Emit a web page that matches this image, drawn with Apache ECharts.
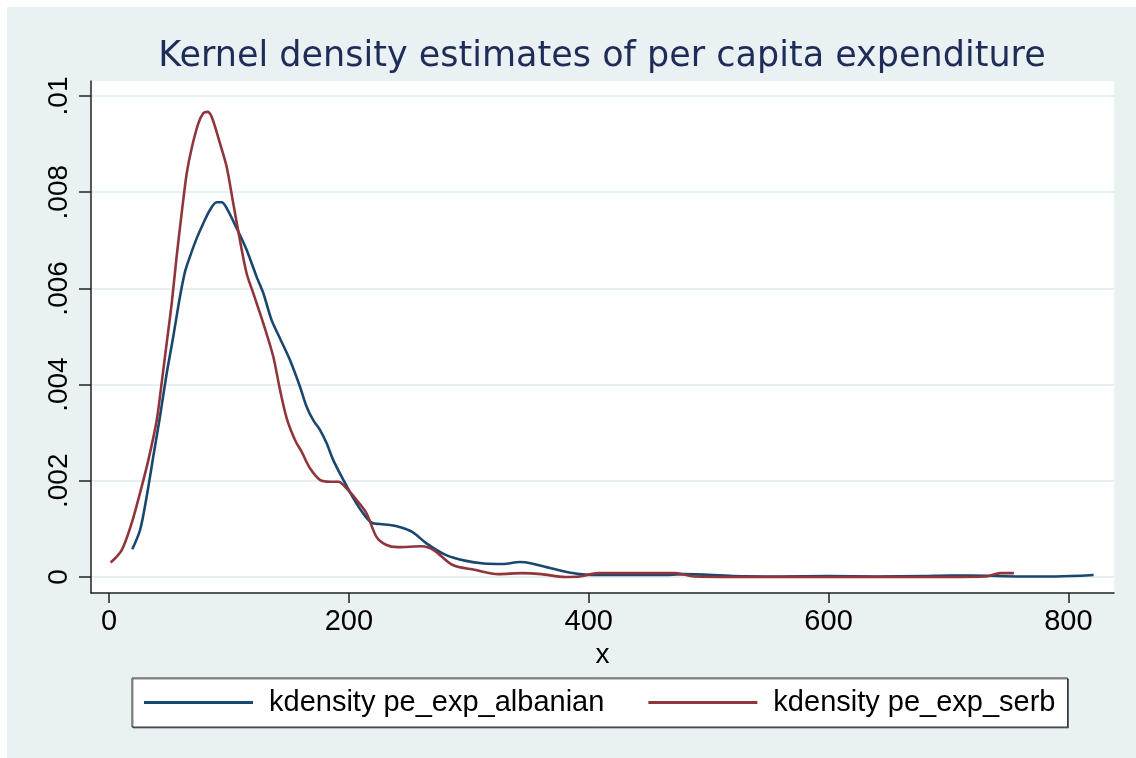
<!DOCTYPE html>
<html>
<head>
<meta charset="utf-8">
<script src="https://cdn.jsdelivr.net/npm/echarts@6/dist/echarts.min.js"></script>
<style>
html,body{margin:0;padding:0;background:#ffffff;}
#chart{width:1136px;height:758px;}
</style>
</head>
<body>
<div id="chart"></div>
<script>
// ---- Data ----
var titleText = 'Kernel density estimates of per capita expenditure';
var xAxisName = 'x';
var seriesNames = ['kdensity pe_exp_albanian', 'kdensity pe_exp_serb'];

var xTicks = [0, 200, 400, 600, 800];
var yTicks = [0, 0.002, 0.004, 0.006, 0.008, 0.01];
var yTickLabels = ['0', '.002', '.004', '.006', '.008', '.01'];

var albanianX = [19.4, 25.9, 31.4, 36.9, 42.5, 48.1, 53.6, 59.2, 63.4, 67.5, 73.1, 78.6, 84.2, 89.8, 94, 98.1, 106.5, 114.8, 123.1, 128.7, 135.6, 142.6, 150.9, 159.2, 164.8, 170.3, 175.9, 181.5, 187, 195.4, 203.7, 212, 219, 226, 234.3, 240.8, 252.8, 264.7, 280.7, 296.7, 312.6, 328.6, 342.5, 352.5, 368.4, 392.4, 420.3, 460.2, 480, 520, 560, 600, 640, 680, 700, 720, 760, 790, 821];
var albanianY = [0.000576, 0.000977, 0.00167, 0.0025, 0.00333, 0.00423, 0.005, 0.00583, 0.00635, 0.00666, 0.00704, 0.00735, 0.00763, 0.00779, 0.00779, 0.00767, 0.00725, 0.0068, 0.00624, 0.0059, 0.00534, 0.00496, 0.00451, 0.00396, 0.00354, 0.00326, 0.00306, 0.00278, 0.00243, 0.00202, 0.00164, 0.00132, 0.00113, 0.0011, 0.00108, 0.00105, 0.00094, 0.0007, 0.00046, 0.00034, 0.00028, 0.00027, 0.00031, 0.00028, 0.00018, 0.00006, 0.00004, 0.00004, 0.00006, 0.00002, 0.00001, 0.00002, 0.00001, 0.00002, 0.00003, 0.00003, 0.00001, 0.00001, 0.00004];

var serbX = [1.4, 10.6, 18.9, 25.8, 32.8, 39.8, 43.9, 48.1, 52.3, 56.4, 60.6, 64.8, 68.9, 74.5, 78.6, 82, 85.6, 92.5, 98.1, 103.6, 109.2, 114.8, 120.3, 128.7, 137, 142.6, 148.2, 155.1, 160.7, 167.6, 175.9, 184.3, 191.2, 198.2, 206.5, 214.8, 222.9, 230.9, 240.8, 260.7, 270.7, 286.6, 304.7, 324.6, 344.5, 360.4, 380.4, 392.4, 408.3, 440.2, 472.1, 488.1, 520, 580, 640, 700, 731.4, 743.3, 754.5];
var serbY = [0.0003, 0.00056, 0.00112, 0.00174, 0.00243, 0.00326, 0.00403, 0.00486, 0.00569, 0.00666, 0.00756, 0.00839, 0.00891, 0.00943, 0.00964, 0.00967, 0.00957, 0.00902, 0.00853, 0.00777, 0.007, 0.00631, 0.0059, 0.00527, 0.00458, 0.00389, 0.0033, 0.00285, 0.0026, 0.00226, 0.00202, 0.00198, 0.00198, 0.00184, 0.0016, 0.00132, 0.00084, 0.00067, 0.00062, 0.00064, 0.00056, 0.00025, 0.00015, 0.00006, 0.00008, 0.00006, 0.0, 0.00001, 0.00008, 0.00008, 0.00008, 0.00001, 0.0, 0.0, 0.0, 0.0, 0.00001, 0.00008, 0.00008];

var colors = ['#1A476F', '#90353B'];

function pairs(xs, ys) {
  var out = [];
  for (var i = 0; i < xs.length; i++) out.push([xs[i], ys[i]]);
  return out;
}

var chart = echarts.init(document.getElementById('chart'), null, {renderer: 'canvas'});
var fontMain = '"Liberation Sans", Arial, sans-serif';

var option = {
  animation: false,
  backgroundColor: '#ffffff',
  color: colors,
  graphic: [
    {
      type: 'rect', z: -10, silent: true,
      shape: {x: 7, y: 7, width: 1129, height: 751},
      style: {fill: '#EAF1F3'}
    },
    {
      type: 'text', z: 10, silent: true,
      x: 602, y: 57,
      style: {
        text: titleText,
        fill: '#1F2C57',
        font: '35px "DejaVu Sans", sans-serif',
        align: 'center',
        verticalAlign: 'middle'
      }
    }
  ],
  grid: {
    left: 91, top: 81, right: 22, bottom: 165,
    show: true, backgroundColor: '#ffffff', borderWidth: 0,
    containLabel: false
  },
  xAxis: {
    type: 'value',
    min: -15, max: 838,
    name: xAxisName,
    nameLocation: 'middle',
    nameGap: 44,
    nameTextStyle: {fontFamily: fontMain, fontSize: 28, color: '#000'},
    axisLine: {show: true, onZero: false, lineStyle: {color: '#222', width: 1.5}},
    axisTick: {show: true, length: 10, customValues: xTicks, lineStyle: {color: '#222', width: 1.5}},
    axisLabel: {customValues: xTicks, margin: 14, fontFamily: fontMain, fontSize: 29, color: '#000'},
    splitLine: {show: false}
  },
  yAxis: {
    type: 'value',
    min: -0.000333, max: 0.010312,
    axisLine: {show: true, onZero: false, lineStyle: {color: '#222', width: 1.5}},
    axisTick: {show: true, length: 12, customValues: yTicks, lineStyle: {color: '#222', width: 1.5}},
    axisLabel: {
      customValues: yTicks,
      rotate: 90, margin: 18,
      fontFamily: fontMain, fontSize: 28, color: '#000',
      formatter: function (v) {
        for (var i = 0; i < yTicks.length; i++) {
          if (Math.abs(yTicks[i] - v) < 1e-9) return yTickLabels[i];
        }
        return '';
      }
    },
    splitLine: {show: true, lineStyle: {color: '#E6EFF1', width: 2}}
  },
  legend: {
    show: true,
    left: 132, top: 678,
    orient: 'horizontal',
    backgroundColor: '#ffffff',
    borderColor: '#333',
    borderWidth: 1,
    shadowColor: 'rgba(0,0,0,0.45)',
    shadowOffsetX: 1,
    shadowOffsetY: 1,
    shadowBlur: 0,
    padding: [10, 12, 10, 12],
    itemWidth: 109,
    itemHeight: 3,
    itemGap: 44,
    icon: 'rect',
    textStyle: {fontFamily: fontMain, fontSize: 29, color: '#000', padding: [0, 0, 0, 11]},
    data: seriesNames
  },
  series: [
    {
      name: seriesNames[0], type: 'line', data: pairs(albanianX, albanianY),
      showSymbol: false, smooth: 0.3,
      lineStyle: {color: colors[0], width: 2.6},
      itemStyle: {color: colors[0]}
    },
    {
      name: seriesNames[1], type: 'line', data: pairs(serbX, serbY),
      showSymbol: false, smooth: 0.3,
      lineStyle: {color: colors[1], width: 2.6},
      itemStyle: {color: colors[1]}
    }
  ]
};
chart.setOption(option);
</script>
</body>
</html>
